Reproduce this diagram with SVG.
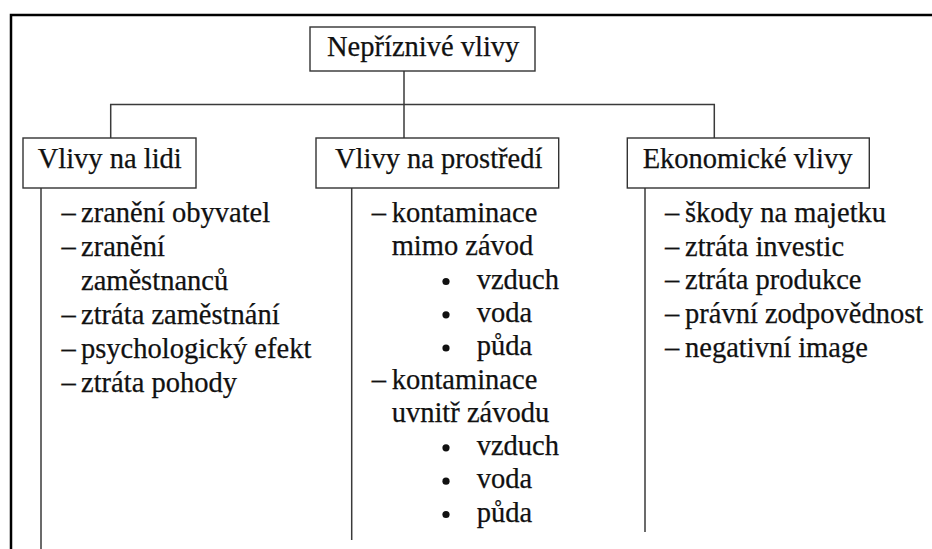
<svg xmlns="http://www.w3.org/2000/svg" width="932" height="549" viewBox="0 0 932 549">
<style>
text{font-family:'Liberation Serif','Times New Roman',serif;font-size:28.5px;fill:#111;stroke:#111;stroke-width:0.25}
.box{fill:#fff;stroke:#333;stroke-width:1.4}
.ln{stroke:#3a3a3a;stroke-width:1.5;fill:none}
.frame{stroke:#000;stroke-width:2.5;fill:none}
</style>
<rect width="932" height="549" fill="#fff"/>
<path class="frame" d="M11 549 V15 H932"/>
<g id="connectors">
<path class="ln" d="M404 71 V138"/>
<path class="ln" d="M110.7 138 V104.5 H714.3 V138" stroke="#555"/>
<path class="ln" d="M41 188 V549"/>
<path class="ln" d="M351.7 188 V540"/>
<path class="ln" d="M645 188 V532"/>
</g>
<g id="root">
<rect class="box" x="310" y="27" width="225" height="44"/>
<text x="327" y="56">Nepříznivé vlivy</text>
</g>
<g id="lidi">
<rect class="box" x="23" y="138" width="173" height="50"/>
<text x="37.7" y="168">Vlivy na lidi</text>
</g>
<g id="prostredi">
<rect class="box" x="316" y="138" width="242.7" height="50"/>
<text x="335" y="168">Vlivy na prostředí</text>
</g>
<g id="ekonomicke">
<rect class="box" x="627.3" y="138" width="242" height="50"/>
<text x="642.7" y="168">Ekonomické vlivy</text>
</g>
<g id="lidi-items">
<text x="61.5" y="222.3">–</text><text x="81" y="222.3">zranění obyvatel</text>
<text x="61.5" y="256">–</text><text x="81" y="256">zranění</text>
<text x="81" y="289.7">zaměstnanců</text>
<text x="61.5" y="324">–</text><text x="81" y="324">ztráta zaměstnání</text>
<text x="61.5" y="358">–</text><text x="81" y="358">psychologický efekt</text>
<text x="61.5" y="391.7">–</text><text x="81" y="391.7">ztráta pohody</text>
</g>
<g id="prostredi-items">
<text x="371.7" y="222.3">–</text><text x="391.7" y="222.3">kontaminace</text>
<text x="391.7" y="255.3">mimo závod</text>
<circle cx="446" cy="281.5" r="3.6" fill="#111"/><text x="476.7" y="288.6">vzduch</text>
<circle cx="446" cy="314.8" r="3.6" fill="#111"/><text x="476.7" y="322">voda</text>
<circle cx="446" cy="348" r="3.6" fill="#111"/><text x="476.7" y="355.2">půda</text>
<text x="371.7" y="388.5">–</text><text x="391.7" y="388.5">kontaminace</text>
<text x="391.7" y="421.8">uvnitř závodu</text>
<circle cx="446" cy="447.8" r="3.6" fill="#111"/><text x="476.7" y="455">vzduch</text>
<circle cx="446" cy="481.2" r="3.6" fill="#111"/><text x="476.7" y="488.4">voda</text>
<circle cx="446" cy="514.5" r="3.6" fill="#111"/><text x="476.7" y="521.7">půda</text>
</g>
<g id="ekonomicke-items">
<text x="665" y="222.3">–</text><text x="685" y="222.3">škody na majetku</text>
<text x="665" y="255.8">–</text><text x="685" y="255.8">ztráta investic</text>
<text x="665" y="289.3">–</text><text x="685" y="289.3">ztráta produkce</text>
<text x="665" y="322.8">–</text><text x="685" y="322.8">právní zodpovědnost</text>
<text x="665" y="356.5">–</text><text x="685" y="356.5">negativní image</text>
</g>
</svg>
